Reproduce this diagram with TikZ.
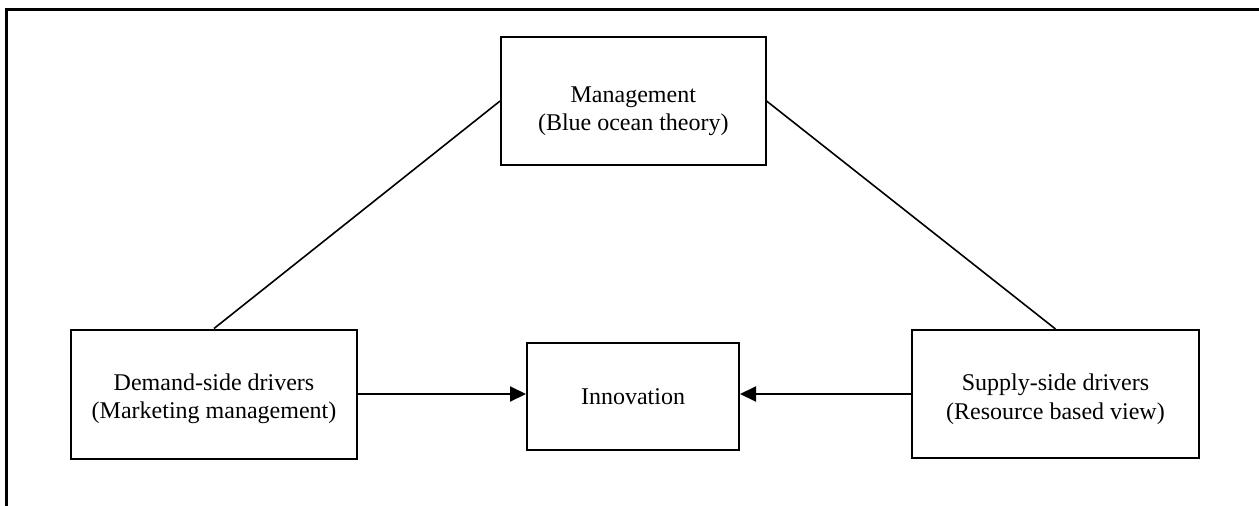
\documentclass[tikz,border=0pt]{standalone}
\usepackage{fontspec}
\setmainfont{Liberation Serif}
\usetikzlibrary{arrows.meta}
\begin{document}
\begin{tikzpicture}[x=1pt,y=-1pt,
  boxstyle/.style={draw=black,line width=2pt,rectangle,inner sep=0pt},
  txt/.style={font=\fontsize{24}{27}\selectfont,anchor=base,inner sep=0pt},
  link/.style={draw=black,line width=1.6pt},
  arr/.style={draw=black,line width=2pt,-{Triangle[length=16pt,width=15pt]}}]
\useasboundingbox (0,0) rectangle (1259,506);
% outer frame (top and left sides)
\coordinate (ftop) at (1259,9.5);
\coordinate (fcorner) at (6.5,9.5);
\coordinate (fbot) at (6.5,506);
\draw[line width=2.2pt] (ftop) -- (fcorner) -- (fbot);
% boxes
\node[boxstyle,minimum width=264.5pt,minimum height=128pt] (mgmt) at (633.3,101) {};
\node[boxstyle,minimum width=286pt,minimum height=129pt] (dem) at (214,394) {};
\node[boxstyle,minimum width=212pt,minimum height=107pt] (inn) at (633,396) {};
\node[boxstyle,minimum width=287pt,minimum height=128pt] (sup) at (1055.5,394) {};
% texts
\node[txt] (mgmt1) at (633.3,102.7) {Management};
\node[txt] (mgmt2) at (633.3,130) {(Blue ocean theory)};
\node[txt] (dem1) at (214,390) {Demand-side drivers};
\node[txt] (dem2) at (214,418) {(Marketing management)};
\node[txt] (inn1) at (633,404) {Innovation};
\node[txt] (sup1) at (1055.5,390.7) {Supply-side drivers};
\node[txt] (sup2) at (1055.5,419) {(Resource based view)};
% connectors
\draw[link] (dem.north) -- (mgmt.west);
\draw[link] (mgmt.east) -- (sup.north);
\draw[arr] (dem.east) -- (dem.east -| inn.west);
\draw[arr] (sup.west) -- (sup.west -| inn.east);
\end{tikzpicture}
\end{document}
